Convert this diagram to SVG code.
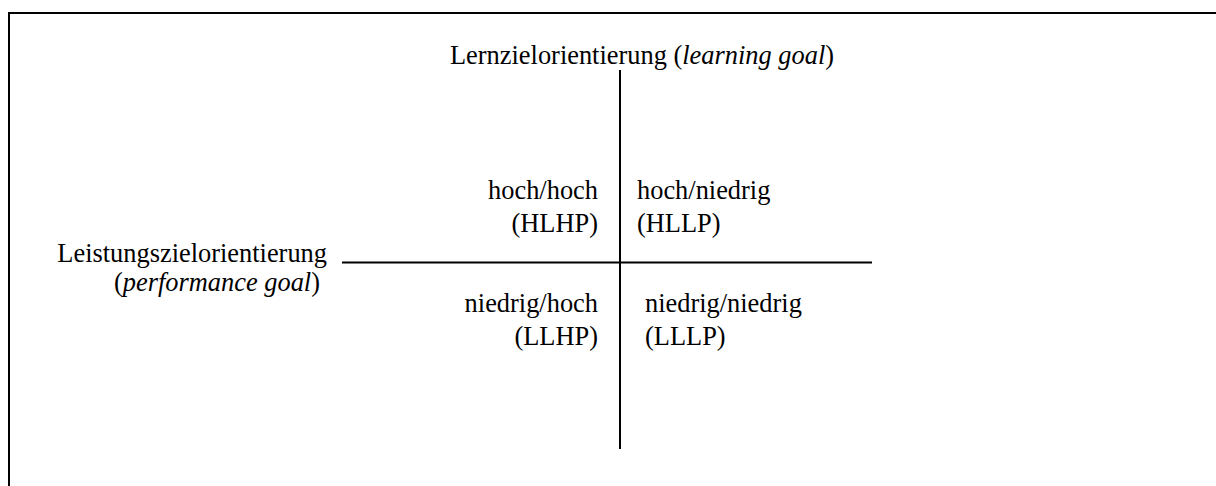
<svg xmlns="http://www.w3.org/2000/svg" width="1216" height="486" viewBox="0 0 1216 486">
<style>
text{font-family:'Liberation Serif',serif;font-size:26.4px;fill:#000}
.r{text-anchor:end}
.m{text-anchor:middle}
.ax{stroke:#000;stroke-width:2;fill:none}
</style>
<rect x="0" y="0" width="1216" height="486" fill="#fff"/>
<rect x="9" y="13" width="1300" height="600" fill="none" stroke="#000" stroke-width="2"/>
<g id="connectors">
<line class="ax" x1="620" y1="70" x2="620" y2="449"/>
<line class="ax" x1="342" y1="262.5" x2="872" y2="262.5"/>
</g>
<g font-family="Liberation Serif, serif">
<g id="title"><text class="m" x="642" y="64">Lernzielorientierung (<tspan font-style="italic">learning goal</tspan>)</text></g>
<g id="leftlabel">
<text class="r" x="327" y="262">Leistungszielorientierung</text>
<text class="r" x="320" y="291">(<tspan font-style="italic">performance goal</tspan>)</text>
</g>
<g id="hlhp"><text class="r" x="598" y="199">hoch/hoch</text><text class="r" x="598" y="232">(HLHP)</text></g>
<g id="hllp"><text x="637" y="199">hoch/niedrig</text><text x="637" y="232">(HLLP)</text></g>
<g id="llhp"><text class="r" x="598" y="312">niedrig/hoch</text><text class="r" x="598" y="345">(LLHP)</text></g>
<g id="lllp"><text x="645" y="312">niedrig/niedrig</text><text x="645" y="345">(LLLP)</text></g>
</g>
</svg>
